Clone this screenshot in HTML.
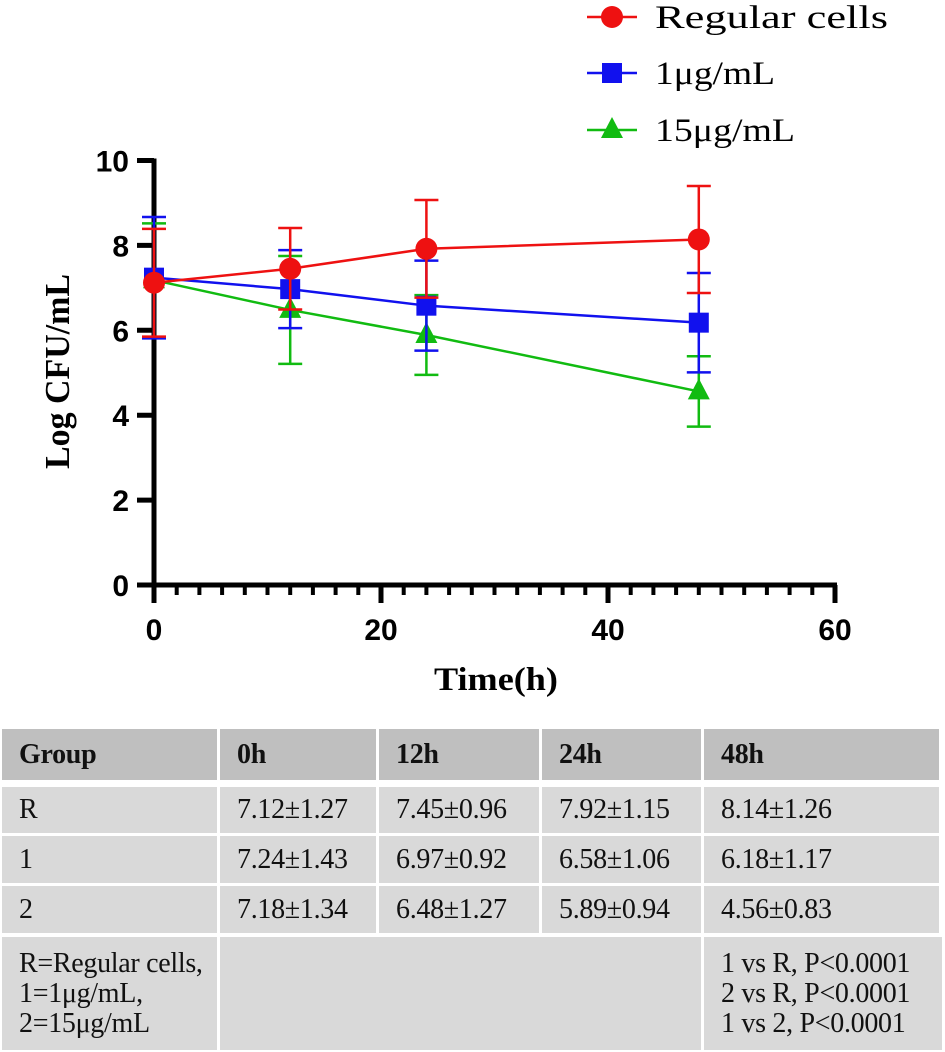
<!DOCTYPE html>
<html><head><meta charset="utf-8">
<style>
body{margin:0;background:#fff;width:945px;height:1052px;overflow:hidden;position:relative;font-family:"Liberation Serif",serif}
svg{position:absolute;left:0;top:0}
.cell{position:absolute;box-sizing:border-box;font-size:28px;color:#111;padding-left:17px;display:flex;align-items:center;letter-spacing:-0.3px}
.h{background:#bfbfbf;font-weight:bold}
.r{background:#d9d9d9}
</style></head>
<body>
<svg width="945" height="700" id="chart"></svg>
<div id="table"></div>
<script>
const times=[0,12,24,48];
const seriesNames=["Regular cells","1μg/mL","15μg/mL"];
const colors=["#ee1111","#1111ee","#11bb11"];
const redMean=[7.12,7.45,7.92,8.14];
const redSD=[1.27,0.96,1.15,1.26];
const blueMean=[7.24,6.97,6.58,6.18];
const blueSD=[1.43,0.92,1.06,1.17];
const greenMean=[7.18,6.48,5.89,4.56];
const greenSD=[1.34,1.27,0.94,0.83];
const yTicks=[0,2,4,6,8,10];
const xTicks=[0,20,40,60];

const NS="http://www.w3.org/2000/svg";
const svg=document.getElementById('chart');
const X=v=>154+v*(835-154)/60;
const Y=v=>585-v*(585-160.5)/10;
function el(t,a,p){const e=document.createElementNS(NS,t);for(const k in a)e.setAttribute(k,a[k]);(p||svg).appendChild(e);return e;}

const ax=el('g',{});


el('line',{x1:X(0),y1:Y(10)-2,x2:X(0),y2:603,stroke:'#000','stroke-width':5},ax);
el('line',{x1:137,y1:Y(0),x2:X(60)+2,y2:Y(0),stroke:'#000','stroke-width':5},ax);
yTicks.forEach(v=>{
  el('line',{x1:137,y1:Y(v),x2:X(0),y2:Y(v),stroke:'#000','stroke-width':5},ax);
  const t=el('text',{x:129,y:Y(v)+11,'text-anchor':'end','font-family':'Liberation Sans','font-weight':'bold','font-size':30},ax);
  t.textContent=v;
  
  
});
for(let v=2;v<=60;v+=2){
  const major=v%20===0;
  el('line',{x1:X(v),y1:Y(0),x2:X(v),y2:major?603:595,stroke:'#000','stroke-width':major?5:4},ax);
}
xTicks.forEach(v=>{
  const t=el('text',{x:X(v),y:640,'text-anchor':'middle','font-family':'Liberation Sans','font-weight':'bold','font-size':30},ax);
  t.textContent=v;
  
  
});
const xt=el('text',{x:434,y:690,'font-family':'Liberation Serif','font-weight':'bold','font-size':33,textLength:124,lengthAdjust:'spacingAndGlyphs'});
xt.textContent='Time(h)';


const yt=el('text',{x:-97,y:0,'font-family':'Liberation Serif','font-weight':'bold','font-size':35,textLength:195,lengthAdjust:'spacingAndGlyphs',transform:'translate(69,372) rotate(-90)'});
yt.textContent='Log CFU/mL';



function marker(i,cx,cy,g){
  if(i===0) return el('circle',{cx:cx,cy:cy,r:11,fill:colors[0]},g);
  if(i===1) return el('rect',{x:cx-10,y:cy-10,width:20,height:20,fill:colors[1]},g);
  return el('polygon',{points:`${cx},${cy-13} ${cx+11},${cy+8} ${cx-11},${cy+8}`,fill:colors[2]},g);
}
const means=[redMean,blueMean,greenMean], sds=[redSD,blueSD,greenSD];
const keys=['regular-cells','1ug','15ug'];
[2,1,0].forEach(i=>{
  const g=el('g',{});
  
  
  el('polyline',{points:times.map((t,j)=>X(t)+','+Y(means[i][j])).join(' '),fill:'none',stroke:colors[i],'stroke-width':2.5},g);
  times.forEach((t,j)=>{
    const m=means[i][j],s=sds[i][j],x=X(t);
    const eb=el('path',{d:`M${x},${Y(m+s)}V${Y(m-s)}M${x-12},${Y(m+s)}H${x+12}M${x-12},${Y(m-s)}H${x+12}`,stroke:colors[i],'stroke-width':2.5,fill:'none'},g);
    
    
    const mk=marker(i,x,Y(m),g);
    
    
  });
});
const lg=el('g',{});


const ly=[17,73,130];
const lw=[233,120,140];
seriesNames.forEach((n,i)=>{
  const g=el('g',{},lg);
  
  
  el('line',{x1:587,y1:ly[i],x2:637,y2:ly[i],stroke:colors[i],'stroke-width':2.5},g);
  marker(i,612,ly[i],g);
  const t=el('text',{x:655,y:ly[i]+11,'font-family':'Liberation Serif','font-size':33,textLength:lw[i],lengthAdjust:'spacingAndGlyphs'},g);
  t.textContent=n;
});

const header=["Group","0h","12h","24h","48h"];
const rows=[["R","7.12±1.27","7.45±0.96","7.92±1.15","8.14±1.26"],
["1","7.24±1.43","6.97±0.92","6.58±1.06","6.18±1.17"],
["2","7.18±1.34","6.48±1.27","5.89±0.94","4.56±0.83"]];
const colX=[2,220,379,542,704,942];
const rowY=[[729,780],[787,833],[836,883],[886,933]];
const tb=document.getElementById('table');
function cell(x1,x2,y1,y2,cls,html,name){
  const d=document.createElement('div');
  d.className='cell '+cls;
  d.style.cssText=`left:${x1}px;top:${y1}px;width:${x2-x1}px;height:${y2-y1}px`;
  d.innerHTML=html;
  
  
  tb.appendChild(d);
}
header.forEach((h,c)=>cell(colX[c],colX[c+1]-3,rowY[0][0],rowY[0][1],'h',h,'header-cell'));
rows.forEach((r,ri)=>r.forEach((v,c)=>cell(colX[c],colX[c+1]-3,rowY[ri+1][0],rowY[ri+1][1],'r',v,'table-cell')));
cell(colX[0],colX[1]-3,937,1050,'r','<div style="line-height:30px">R=Regular cells,<br>1=1μg/mL,<br>2=15μg/mL</div>','legend-note-cell');
cell(colX[1],colX[4]-3,937,1050,'r','','empty-cell');
cell(colX[4],colX[5],937,1050,'r','<div style="line-height:30px">1 vs R, P&lt;0.0001<br>2 vs R, P&lt;0.0001<br>1 vs 2, P&lt;0.0001</div>','p-value-cell');
</script>
</body></html>
